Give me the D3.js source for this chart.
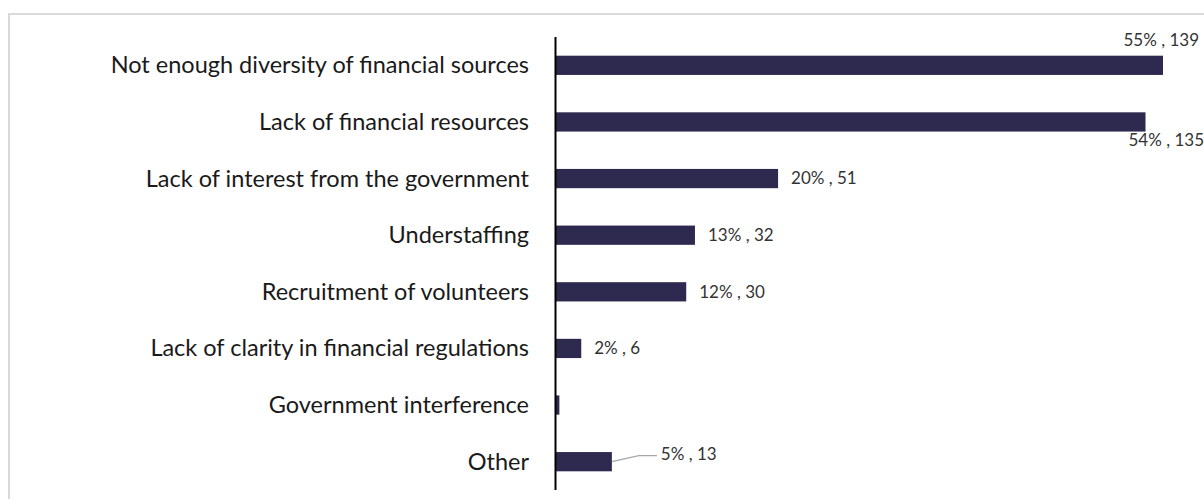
<!DOCTYPE html>
<html>
<head>
<meta charset="utf-8">
<script src="https://cdn.jsdelivr.net/npm/d3@7"></script>
<style>
  html, body { margin: 0; padding: 0; background: #fff; }
  svg { display: block; }
</style>
</head>
<body>
<svg id="chart" width="1204" height="499"></svg>
<script>
// Challenges reported by organisations (share of respondents and count)
const categories = [
  "Not enough diversity of financial sources",
  "Lack of financial resources",
  "Lack of interest from the government",
  "Understaffing",
  "Recruitment of volunteers",
  "Lack of clarity in financial regulations",
  "Government interference",
  "Other"
];
const counts = [139, 135, 51, 32, 30, 6, 1, 13];
const percents = [55, 54, 20, 13, 12, 2, 0, 5];
const showLabel = [true, true, true, true, true, true, false, true];

const svg = d3.select("#chart");
const W = 1204, H = 499;

// outer frame
svg.append("rect")
  .attr("x", 9).attr("y", 14)
  .attr("width", W + 20).attr("height", H + 20)
  .attr("fill", "none")
  .attr("stroke", "#d9d9d9")
  .attr("stroke-width", 2);

const axisX = 555;
const x = d3.scaleLinear().domain([0, 139]).range([axisX, 1163]);
const y = d3.scaleBand().domain(categories).range([37, 490]).paddingInner(0.66).paddingOuter(0.33);

const barColor = "#2e2a4f";
const font = "Lato, 'Open Sans', sans-serif";

// bars
svg.append("g").selectAll("rect")
  .data(categories)
  .join("rect")
  .attr("x", x(0))
  .attr("y", d => y(d))
  .attr("width", (d, i) => x(counts[i]) - x(0))
  .attr("height", y.bandwidth())
  .attr("fill", barColor);

// category axis
const axis = d3.axisLeft(y).tickSize(0).tickPadding(26);
const gAxis = svg.append("g")
  .attr("transform", `translate(${axisX},0)`)
  .call(axis);
gAxis.select(".domain")
  .attr("d", `M0.5,37V490`)
  .attr("stroke", "#000")
  .attr("stroke-width", 2);
gAxis.selectAll("text")
  .attr("font-family", font)
  .attr("font-size", 23.5)
  .attr("dy", "0.34em")
  .attr("fill", "#1a1a1a");

// value labels
const fmt = i => `${percents[i]}% , ${counts[i]}`;
const gLab = svg.append("g")
  .attr("font-family", font)
  .attr("font-size", 17)
  .attr("fill", "#333333");

categories.forEach((c, i) => {
  if (!showLabel[i]) return;
  const cy = y(c) + y.bandwidth() / 2;
  const xe = x(counts[i]);
  if (i === 0) {
    gLab.append("text").attr("x", 1199).attr("y", cy - 24)
      .attr("text-anchor", "end").attr("dominant-baseline", "middle").text(fmt(i));
  } else if (i === 1) {
    gLab.append("text").attr("x", xe - 17).attr("y", cy + 19.5)
      .attr("dominant-baseline", "middle").text(fmt(i));
  } else if (c === "Other") {
    svg.append("path")
      .attr("d", `M${xe},${cy}L${xe + 27},${cy - 6}H${xe + 45}`)
      .attr("fill", "none").attr("stroke", "#a6a6a6").attr("stroke-width", 1.3);
    gLab.append("text").attr("x", xe + 49).attr("y", cy - 6)
      .attr("dominant-baseline", "middle").text(fmt(i));
  } else {
    gLab.append("text").attr("x", xe + 13).attr("y", cy + 1.5)
      .attr("dominant-baseline", "middle").text(fmt(i));
  }
});
</script>
</body>
</html>
